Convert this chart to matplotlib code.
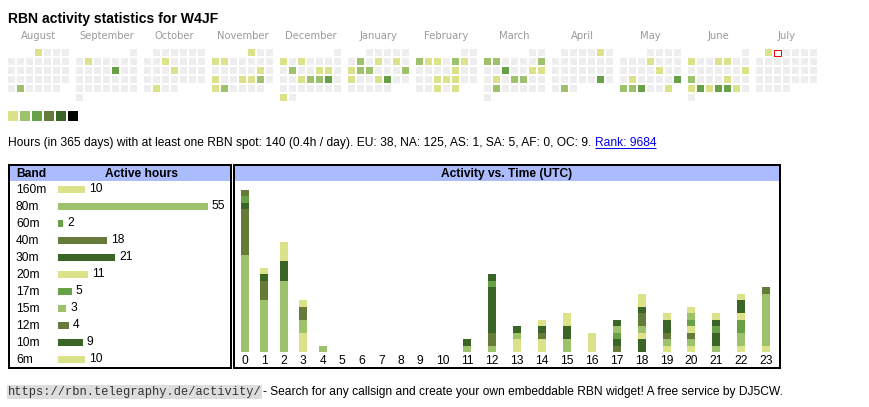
import datetime as dt
import matplotlib
matplotlib.use("Agg")
import matplotlib.pyplot as plt
import matplotlib.transforms as mtransforms
from matplotlib.patches import Rectangle

# ------------------------------------------------------------------ data
title = "RBN activity statistics for W4JF"
month_names = ["August", "September", "October", "November", "December", "January",
               "February", "March", "April", "May", "June", "July"]
first_month = dt.date(2024, 8, 1)
today = dt.date(2025, 7, 2)

active_dates = [
    "2024-08-01", "2024-08-27",
    "2024-09-03", "2024-09-13",
    "2024-10-09", "2024-10-17", "2024-10-29",
    "2024-11-01", "2024-11-04", "2024-11-05", "2024-11-16", "2024-11-18", "2024-11-21",
    "2024-11-22", "2024-11-23", "2024-11-25", "2024-11-26",
    "2024-12-02", "2024-12-04", "2024-12-10", "2024-12-13", "2024-12-14", "2024-12-18",
    "2024-12-19", "2024-12-20", "2024-12-21", "2024-12-30",
    "2025-01-07", "2025-01-09", "2025-01-11", "2025-01-13", "2025-01-14", "2025-01-15",
    "2025-01-19", "2025-01-20", "2025-01-23", "2025-01-24",
    "2025-02-03", "2025-02-04", "2025-02-05", "2025-02-07", "2025-02-08", "2025-02-14",
    "2025-02-19", "2025-02-20", "2025-02-21", "2025-02-26", "2025-02-28",
    "2025-03-03", "2025-03-04", "2025-03-09", "2025-03-12", "2025-03-15", "2025-03-16",
    "2025-03-18", "2025-03-20", "2025-03-21", "2025-03-25",
    "2025-04-05", "2025-04-26", "2025-04-29",
    "2025-05-08", "2025-05-16", "2025-05-20", "2025-05-25", "2025-05-26", "2025-05-27",
    "2025-05-28", "2025-05-31",
    "2025-06-02", "2025-06-05", "2025-06-06", "2025-06-15", "2025-06-16", "2025-06-20",
    "2025-06-23", "2025-06-24", "2025-06-25", "2025-06-26", "2025-06-27", "2025-06-28",
    "2025-07-01",
]
active_levels = [
    1, 2,
    1, 3,
    1, 1, 1,
    1, 1, 1, 1, 1, 1,
    1, 2, 1, 2,
    1, 1, 2, 1, 1, 1,
    2, 2, 3, 1,
    2, 1, 1, 1, 2, 2,
    2, 1, 1, 3,
    2, 1, 1, 2, 1, 1,
    1, 1, 1, 1, 1,
    2, 2, 2, 3, 1, 1,
    1, 2, 2, 2,
    1, 3, 2,
    1, 1, 1, 3, 2, 2,
    3, 1,
    1, 1, 1, 1, 2, 1,
    1, 3, 1, 3, 3, 1,
    1,
]
level_colors = ["#dbe28a", "#9dc26b", "#67a047", "#667a3a", "#3b6527", "#000000"]

summary_text = ("Hours (in 365 days) with at least one RBN spot: 140 (0.4h / day). "
                "EU: 38, NA: 125, AS: 1, SA: 5, AF: 0, OC: 9.")
rank_text = "Rank: 9684"

bands = ["160m", "80m", "60m", "40m", "30m", "20m", "17m", "15m", "12m", "10m", "6m"]
band_hours = [10, 55, 2, 18, 21, 11, 5, 3, 4, 9, 10]
band_colors = ["#dbe28a", "#9dc26b", "#67a047", "#667a3a", "#3b6527", "#dbe28a",
               "#67a047", "#9dc26b", "#667a3a", "#3b6527", "#dbe28a"]

hour_labels = [str(h) for h in range(24)]
#            0  1  2  3  4  5  6  7  8  9 10 11 12 13 14 15 16 17 18 19 20 21 22 23
hrs_160m = [0, 0, 0, 3, 0, 0, 0, 0, 0, 0, 0, 0, 0, 2, 2, 0, 0, 0, 0, 1, 1, 0, 1, 1]
hrs_80m  = [15, 8, 11, 2, 1, 0, 0, 0, 0, 0, 0, 1, 1, 1, 0, 2, 0, 0, 0, 1, 1, 1, 2, 8]
hrs_60m  = [0, 0, 0, 0, 0, 0, 0, 0, 0, 0, 0, 0, 0, 0, 0, 0, 0, 0, 0, 0, 0, 0, 2, 0]
hrs_40m  = [7, 3, 0, 2, 0, 0, 0, 0, 0, 0, 0, 0, 2, 0, 1, 0, 0, 1, 0, 1, 1, 0, 0, 1]
hrs_30m  = [1, 1, 3, 0, 0, 0, 0, 0, 0, 0, 0, 1, 7, 1, 1, 2, 0, 1, 2, 2, 0, 2, 0, 0]
hrs_20m  = [0, 0, 3, 1, 0, 0, 0, 0, 0, 0, 0, 0, 0, 0, 1, 2, 0, 0, 1, 1, 1, 0, 1, 0]
hrs_17m  = [1, 0, 0, 0, 0, 0, 0, 0, 0, 0, 0, 0, 1, 0, 0, 0, 0, 1, 0, 0, 1, 1, 0, 0]
hrs_15m  = [0, 0, 0, 0, 0, 0, 0, 0, 0, 0, 0, 0, 0, 0, 0, 0, 0, 1, 1, 0, 1, 0, 0, 0]
hrs_12m  = [1, 0, 0, 0, 0, 0, 0, 0, 0, 0, 0, 0, 0, 0, 0, 0, 0, 0, 2, 0, 0, 0, 0, 0]
hrs_10m  = [0, 0, 0, 0, 0, 0, 0, 0, 0, 0, 0, 0, 1, 0, 0, 0, 0, 1, 1, 0, 0, 1, 2, 0]
hrs_6m   = [0, 1, 0, 0, 0, 0, 0, 0, 0, 0, 0, 0, 0, 0, 0, 0, 3, 0, 2, 0, 1, 1, 1, 0]
hourly_by_band = [hrs_160m, hrs_80m, hrs_60m, hrs_40m, hrs_30m, hrs_20m,
                  hrs_17m, hrs_15m, hrs_12m, hrs_10m, hrs_6m]

footer_url = "https://rbn.telegraphy.de/activity/"
footer_text = "- Search for any callsign and create your own embeddable RBN widget! A free service by DJ5CW."

# ------------------------------------------------------------------ style / layout
W, H = 870, 407
SANS = ["Liberation Sans", "DejaVu Sans"]
MONO = ["Liberation Mono", "DejaVu Sans Mono"]
PX = 72 / 100.0          # points per pixel
FS = 12 * PX             # 12px body text
GREY_CELL = "#eeeeee"
HEAD_BG = "#aabbfe"

fig = plt.figure(figsize=(W / 100, H / 100), dpi=100)
fig.patch.set_facecolor("white")
bg = fig.add_axes([0, 0, 1, 1])
bg.set_xlim(0, W)
bg.set_ylim(H, 0)
bg.axis("off")


def px_axes(x0, y0, x1, y1):
    ax = fig.add_axes([x0 / W, 1 - y1 / H, (x1 - x0) / W, (y1 - y0) / H])
    ax.patch.set_alpha(0)
    for s in ax.spines.values():
        s.set_visible(False)
    return ax


# title
bg.text(8, 23, title, fontsize=14 * PX, fontweight="bold", family=SANS,
        va="baseline", ha="left", color="black")

# calendar
CAL_X0, CAL_Y0, STEP, CELL, MONTH_STEP = 8, 49, 9, 7, 68
level_of = {dt.date.fromisoformat(d): lv for d, lv in zip(active_dates, active_levels)}
for m, name in enumerate(month_names):
    yr = first_month.year + (first_month.month - 1 + m) // 12
    mo = (first_month.month - 1 + m) % 12 + 1
    first = dt.date(yr, mo, 1)
    nxt = dt.date(yr + mo // 12, mo % 12 + 1, 1)
    mx = CAL_X0 + m * MONTH_STEP
    bg.text(mx + (7 * STEP - 2) / 2, 39, name, fontsize=10 * PX, family="DejaVu Sans",
            color="#9a9a9a", ha="center", va="baseline")
    for k in range((nxt - first).days):
        d = first + dt.timedelta(days=k)
        row = (k + first.weekday()) // 7
        x = mx + d.weekday() * STEP
        y = CAL_Y0 + row * STEP
        if d == today:
            bg.add_patch(Rectangle((x + 0.5, y + 0.5), CELL - 0.5, CELL - 0.5,
                                   facecolor="white", edgecolor="#ee0000", lw=1.0 * PX))
        else:
            c = level_colors[level_of[d] - 1] if d in level_of else GREY_CELL
            bg.add_patch(Rectangle((x, y), CELL, CELL, facecolor=c, edgecolor="none"))

# level legend
for k, c in enumerate(level_colors):
    bg.add_patch(Rectangle((8 + 12 * k, 111), 10, 10, facecolor=c, edgecolor="none"))

# summary line
t_sum = bg.text(8, 146, summary_text, fontsize=FS, family=SANS, va="baseline", ha="left")

# ---------------- tables frames
for (x0, x1) in [(9, 231), (234, 780)]:
    bg.add_patch(Rectangle((x0 + 1, 166), x1 - x0 - 2, 15, facecolor=HEAD_BG, edgecolor="none"))
    bg.add_patch(Rectangle((x0, 165), x1 - x0, 203, facecolor="none", edgecolor="black",
                           lw=2 * PX))
bg.text(16, 177, "Band", fontsize=FS, fontweight="bold", family=SANS, va="baseline")
bg.text(141.5, 177, "Active hours", fontsize=FS, fontweight="bold", family=SANS,
        va="baseline", ha="center")
bg.text(507, 177, "Activity vs. Time (UTC)", fontsize=FS, fontweight="bold", family=SANS,
        va="baseline", ha="center")

# ---------------- band table (horizontal bars)
axb = px_axes(58, 180.5, 229, 367.5)
ypos = list(range(len(bands)))
bars = axb.barh(ypos, band_hours, height=7 / 17, color=band_colors, edgecolor="none")
axb.set_xlim(0, 171 / (150 / 55))
axb.set_ylim(len(bands) - 0.5, -0.5)
axb.set_xticks([])
axb.set_yticks([])
vlabels = axb.bar_label(bars, labels=[str(v) for v in band_hours], padding=4 * PX,
                        fontsize=FS, family=SANS)
down = mtransforms.ScaledTranslation(0, -1.0 / 100, fig.dpi_scale_trans)
for t in vlabels:
    t.set_transform(t.get_transform() + down)
tr = mtransforms.blended_transform_factory(bg.transData, axb.transData) + down
for i, b in enumerate(bands):
    bg.text(16, i, b, transform=tr, fontsize=FS, family=SANS, va="center", ha="left")

# ---------------- activity vs time (stacked bars)
col_w = [14.1 + 5.4 * len(lbl) for lbl in hour_labels]
centers = []
acc = 0.0
for w in col_w:
    centers.append(acc + w / 2)
    acc += w
axa = px_axes(235, 183, 235 + acc, 352)
bottom = [0] * 24
for vals, c in zip(hourly_by_band, band_colors):
    axa.bar(centers, vals, width=8, bottom=bottom, color=c, edgecolor="none", linewidth=0)
    bottom = [b + v for b, v in zip(bottom, vals)]
axa.set_xlim(0, acc)
axa.set_ylim(0, 26)
axa.set_yticks([])
axa.set_xticks(centers, hour_labels)
axa.tick_params(axis="x", length=0, pad=3.0 * PX, labelsize=FS)
for lbl in axa.get_xticklabels():
    lbl.set_family(SANS)

# ---------------- footer
t_url = bg.text(8, 395, footer_url, fontsize=12 * PX, family=MONO, va="baseline", ha="left",
                color="#333333",
                bbox=dict(boxstyle="square,pad=0.05", facecolor="#dddddd", edgecolor="none"))

# place dependent texts after measuring
fig.canvas.draw()
renderer = fig.canvas.get_renderer()
inv = bg.transData.inverted()

bb = t_sum.get_window_extent(renderer)
x_end = inv.transform((bb.x1, bb.y0))[0]
t_rank = bg.text(x_end + 12 * 0.278, 146, rank_text, fontsize=FS, family=SANS,
                 va="baseline", ha="left", color="#0000ee")
fig.canvas.draw()
bbr = t_rank.get_window_extent(renderer)
rx0 = inv.transform((bbr.x0, bbr.y0))[0]
rx1 = inv.transform((bbr.x1, bbr.y0))[0]
bg.plot([rx0, rx1], [147.5, 147.5], color="#0000ee", lw=1 * PX, solid_capstyle="butt")

bbu = t_url.get_window_extent(renderer)
ux1 = inv.transform((bbu.x1, bbu.y0))[0]
bg.text(ux1 + 1, 395, footer_text, fontsize=FS, family=SANS, va="baseline", ha="left")

fig.savefig("out.png", dpi=100, facecolor="white")
